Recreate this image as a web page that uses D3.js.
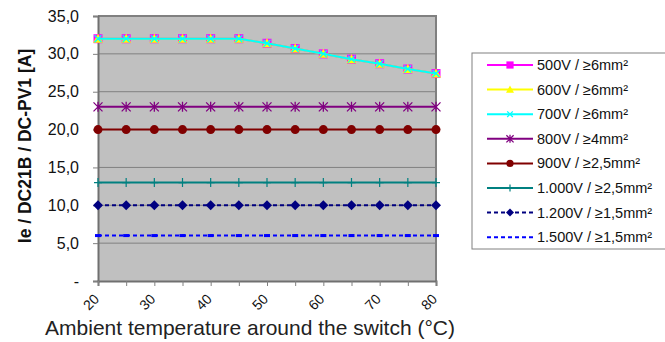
<!DOCTYPE html>
<html><head><meta charset="utf-8">
<script src="https://cdn.jsdelivr.net/npm/d3@7"></script>
<style>body{margin:0;background:#fff}svg{display:block;font-family:"Liberation Sans",Arial,sans-serif}</style>
</head><body>
<svg id="c" width="665" height="342"></svg>
<script>
const temps = [20,25,30,35,40,45,50,55,60,65,70,75,80];
const derate = [32,32,32,32,32,32,31.4,30.7,30.0,29.3,28.7,28.0,27.4];
const s500 = derate.slice();
const s600 = derate.slice();
const s700 = derate.slice();
const s800 = [23,23,23,23,23,23,23,23,23,23,23,23,23];
const s900 = [20,20,20,20,20,20,20,20,20,20,20,20,20];
const s1000 = [13,13,13,13,13,13,13,13,13,13,13,13,13];
const s1200 = [10,10,10,10,10,10,10,10,10,10,10,10,10];
const s1500 = [6,6,6,6,6,6,6,6,6,6,6,6,6];
const seriesNames = ["500V / ≥6mm²","600V / ≥6mm²","700V / ≥6mm²","800V / ≥4mm²","900V / ≥2,5mm²","1.000V / ≥2,5mm²","1.200V / ≥1,5mm²","1.500V / ≥1,5mm²"];
const yTicks = [0,5,10,15,20,25,30,35];
const xLabels = [20,30,40,50,60,70,80];
const yTitle = "Ie / DC21B / DC-PV1 [A]";
const xTitle = "Ambient temperature around the switch (°C)";

const series = [
  {name:seriesNames[0], values:s500, color:"#ff00ff", marker:"square", dash:null},
  {name:seriesNames[1], values:s600, color:"#ffff00", marker:"triangle", dash:null},
  {name:seriesNames[2], values:s700, color:"#00ffff", marker:"x", dash:null},
  {name:seriesNames[3], values:s800, color:"#800080", marker:"star", dash:null},
  {name:seriesNames[4], values:s900, color:"#800000", marker:"circle", dash:null},
  {name:seriesNames[5], values:s1000, color:"#008080", marker:"plus", dash:null},
  {name:seriesNames[6], values:s1200, color:"#000080", marker:"diamond", dash:"4,3"},
  {name:seriesNames[7], values:s1500, color:"#0000ff", marker:"dash", dash:"4,3"}
];

const svg = d3.select("#c");
const L=98, R=436, T=16, B=281;
const x = d3.scaleLinear().domain([20,80]).range([L,R]);
const y = d3.scaleLinear().domain([0,35]).range([B,T]);

svg.append("rect").attr("x",L).attr("y",T).attr("width",R-L).attr("height",B-T).attr("fill","#c0c0c0");
svg.append("g").selectAll("line").data(yTicks.filter(d=>d>0&&d<35)).join("line")
  .attr("x1",L).attr("x2",R).attr("y1",d=>y(d)).attr("y2",d=>y(d))
  .attr("stroke","#808080").attr("stroke-width",1);
svg.append("path").attr("d",`M${L},${T}H${R}V${B}`).attr("fill","none").attr("stroke","#808080").attr("stroke-width",2);

const yAxis = d3.axisLeft(y).tickValues(yTicks).tickSize(5).tickPadding(14)
  .tickFormat(d=> d===0 ? "-" : d3.format(".1f")(d).replace(".",","));
const gy = svg.append("g").attr("transform",`translate(${L},0)`).call(yAxis);
gy.select(".domain").attr("stroke","#707070").attr("stroke-width",2);
gy.selectAll(".tick line").attr("stroke","#808080");
gy.selectAll("text").attr("font-size","16px").attr("fill","#111").attr("font-family","Liberation Sans, Arial, sans-serif");

const xAxis = d3.axisBottom(x).tickValues(temps).tickSize(5).tickFormat("");
const gx = svg.append("g").attr("transform",`translate(0,${B})`).call(xAxis);
gx.select(".domain").attr("stroke","#707070").attr("stroke-width",2);
gx.selectAll(".tick line").attr("stroke","#808080");
svg.append("g").selectAll("text").data(xLabels).join("text")
  .attr("transform",d=>`translate(${x(d)+2},${B+19}) rotate(-45)`)
  .attr("text-anchor","end").attr("font-size","14px").attr("fill","#111").text(d=>d);

svg.append("text").attr("transform",`translate(31,146) rotate(-90)`)
  .attr("text-anchor","middle").attr("font-weight","bold").attr("font-size","17.5px").attr("fill","#111").text(yTitle);
svg.append("text").attr("x",250).attr("y",335).attr("text-anchor","middle")
  .attr("font-size","21px").attr("fill","#222").text(xTitle);

function drawMarker(g, type, color, cx, cy, scale){
  const s = scale||1;
  if(type==="square") g.append("rect").attr("x",cx-4.5*s).attr("y",cy-4.5*s).attr("width",9*s).attr("height",9*s).attr("fill",color);
  else if(type==="triangle") g.append("path").attr("d",`M${cx},${cy-5*s}L${cx+5*s},${cy+4*s}L${cx-5*s},${cy+4*s}Z`).attr("fill",color);
  else if(type==="x") g.append("path").attr("d",`M${cx-3.5*s},${cy-3.5*s}L${cx+3.5*s},${cy+3.5*s}M${cx+3.5*s},${cy-3.5*s}L${cx-3.5*s},${cy+3.5*s}`).attr("stroke",color).attr("stroke-width",1.3);
  else if(type==="star") g.append("path").attr("d",`M${cx-4.5*s},${cy-4.5*s}L${cx+4.5*s},${cy+4.5*s}M${cx+4.5*s},${cy-4.5*s}L${cx-4.5*s},${cy+4.5*s}M${cx},${cy-5*s}V${cy+5*s}`).attr("stroke",color).attr("stroke-width",1.3);
  else if(type==="circle") g.append("circle").attr("cx",cx).attr("cy",cy).attr("r",4.5*s).attr("fill",color);
  else if(type==="plus") g.append("path").attr("d",`M${cx},${cy-4.5*s}V${cy+4.5*s}M${cx-4*s},${cy}H${cx+4*s}`).attr("stroke",color).attr("stroke-width",1.2);
  else if(type==="diamond") g.append("path").attr("d",`M${cx},${cy-5*s}L${cx+5*s},${cy}L${cx},${cy+5*s}L${cx-5*s},${cy}Z`).attr("fill",color);
  else if(type==="dash") g.append("rect").attr("x",cx-3*s).attr("y",cy-1.5).attr("width",6*s).attr("height",3).attr("fill",color);
}

const line = d3.line().x((d,i)=>x(temps[i])).y(d=>y(d));
const plot = svg.append("g");
series.forEach(s=>{
  const g = plot.append("g");
  g.append("path").attr("d",line(s.values)).attr("fill","none").attr("stroke",s.color)
    .attr("stroke-width",2).attr("stroke-dasharray",s.dash);
  s.values.forEach((v,i)=>drawMarker(g,s.marker,s.color,x(temps[i]),y(v)));
});

const lg = svg.append("g");
lg.append("rect").attr("x",472).attr("y",53).attr("width",210).attr("height",196)
  .attr("fill","#fff").attr("stroke","#808080").attr("stroke-width",1);
series.forEach((s,i)=>{
  const ly = 65 + i*24.6;
  const g = lg.append("g");
  g.append("line").attr("x1",487).attr("x2",533).attr("y1",ly).attr("y2",ly)
    .attr("stroke",s.color).attr("stroke-width",2).attr("stroke-dasharray",s.dash);
  if(s.marker!=="dash") drawMarker(g,s.marker,s.color,510,ly,0.8);
  g.append("text").attr("x",537).attr("y",ly+5).attr("font-size","14.5px").attr("fill","#111").text(s.name);
});
</script>
</body></html>
